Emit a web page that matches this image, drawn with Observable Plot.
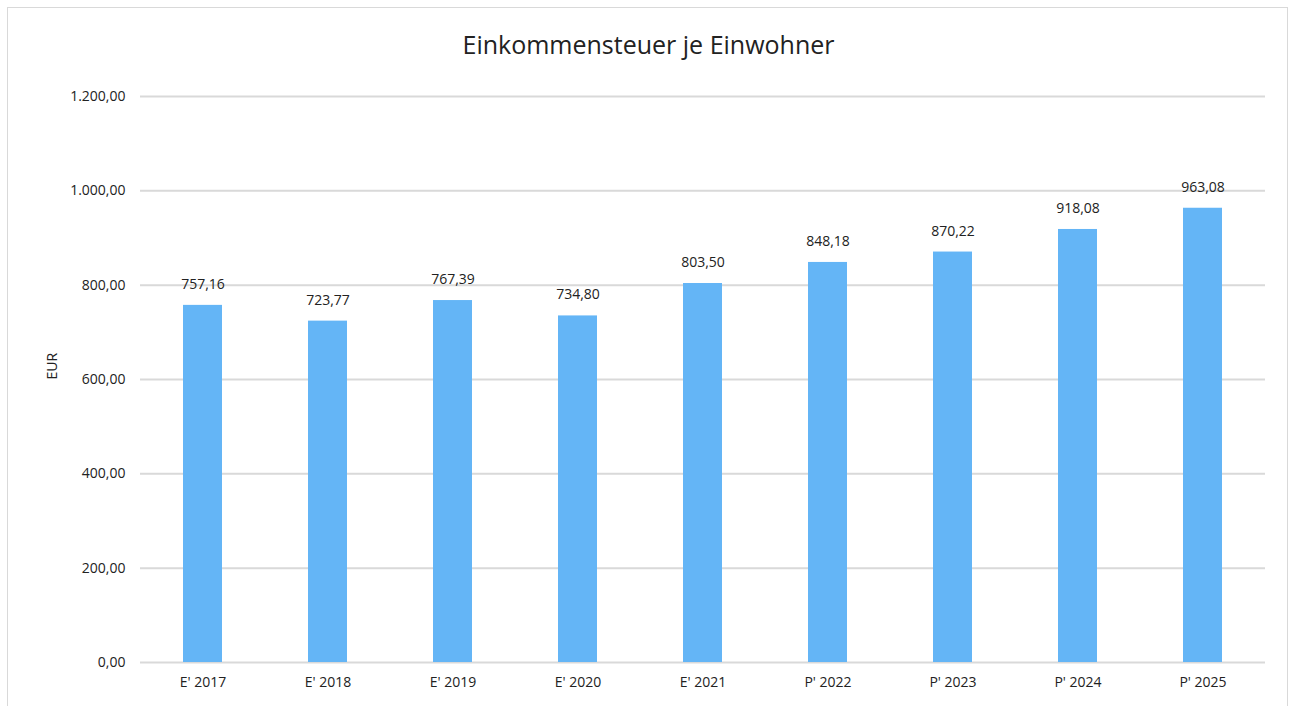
<!DOCTYPE html>
<html><head><meta charset="utf-8">
<script src="https://cdn.jsdelivr.net/npm/d3@7"></script>
<script src="https://cdn.jsdelivr.net/npm/@observablehq/plot@0.6"></script>
<style>
body{margin:0;background:#fff;font-family:"Open Sans",sans-serif;}
#wrap{position:relative;width:1293px;height:706px;overflow:hidden;}
#frame{position:absolute;left:7px;top:7px;width:1281px;height:720px;border:1px solid #d9d9d9;box-sizing:border-box;}
#title{position:absolute;left:0;width:1297px;top:27px;text-align:center;font-size:25px;color:#222;}
#chart{position:absolute;left:0;top:0;}
</style></head>
<body><div id="wrap"><div id="frame"></div><div id="title">Einkommensteuer je Einwohner</div><div id="chart"></div></div>
<script>
const categories = ["E' 2017","E' 2018","E' 2019","E' 2020","E' 2021","P' 2022","P' 2023","P' 2024","P' 2025"];
const values = [757.16,723.77,767.39,734.80,803.50,848.18,870.22,918.08,963.08];
const yTicks = [0,200,400,600,800,1000,1200];
const yLabel = "EUR";

const loc = d3.formatLocale({decimal:",",thousands:".",grouping:[3],currency:["","€"]});
const fmt = loc.format(",.2f");
const data = categories.map((c,i)=>({cat:c,val:values[i]}));

const chart = Plot.plot({
  width:1293, height:706,
  marginLeft:140, marginRight:28, marginTop:96, marginBottom:44,
  style:{fontFamily:"Open Sans, sans-serif", fontSize:"14px", color:"#222", background:"transparent"},
  x:{domain:categories, paddingInner:0.685, paddingOuter:0.3425, label:null, tickSize:0, tickPadding:16},
  y:{domain:[0,1200], ticks:yTicks, tickFormat:fmt, tickSize:0, tickPadding:15, label:null},
  marks:[
    Plot.gridY(yTicks,{stroke:"#d9d9d9", strokeOpacity:1, strokeWidth:2}),
    Plot.barY(data,{x:"cat", y:"val", fill:"#64b5f6"}),
    Plot.text(data,{x:"cat", y:"val", text:d=>fmt(d.val), dy:-21, fontSize:14, fill:"#222"}),
    Plot.axisY({ticks:yTicks, tickFormat:fmt, tickSize:0, tickPadding:15, label:null, fontSize:14}),
    Plot.axisX({tickSize:0, tickPadding:15, label:null, fontSize:14}),
    Plot.text([yLabel],{frameAnchor:"left", dx:-88, rotate:-90, fontSize:14, fill:"#222"})
  ]
});
document.getElementById("chart").appendChild(chart);
</script></body></html>
